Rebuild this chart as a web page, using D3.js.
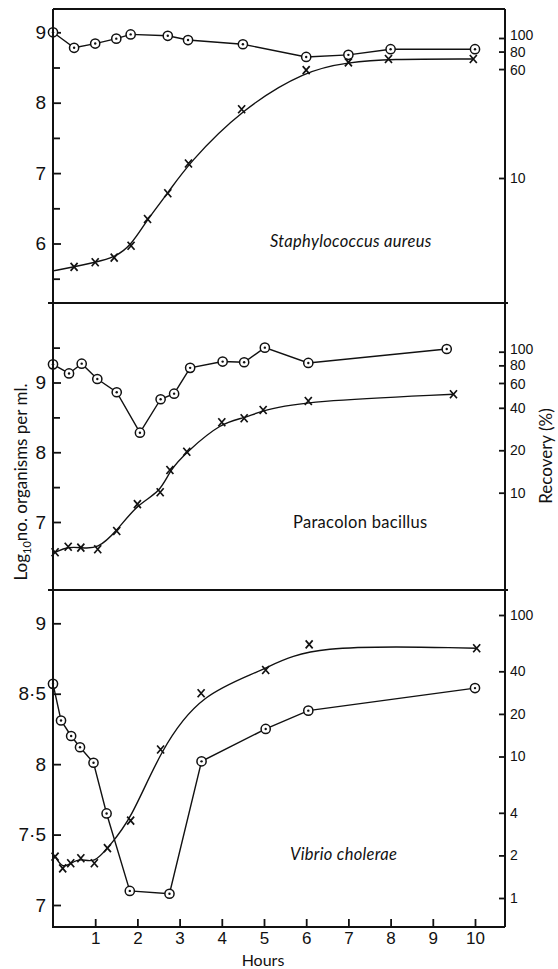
<!DOCTYPE html>
<html>
<head>
<meta charset="utf-8">
<script src="https://cdn.jsdelivr.net/npm/d3@7/dist/d3.min.js"></script>
<style>
    body { margin: 0; background: #fff; }
    svg { display: block; font-family: Lato, "Open Sans", sans-serif; }
</style>
</head>
<body>
<script>
// ! DATA ! //
// ^ HOURS AXIS ^ //
const hourTicks = [1, 2, 3, 4, 5, 6, 7, 8, 9, 10];

// ^ STAPHYLOCOCCUS AUREUS ^ //
const staphCountHours = [0, 0.5, 1.0, 1.5, 1.84, 2.72, 3.2, 4.5, 6.0, 7.0, 8.0, 10.0];
const staphCount = [9.0, 8.78, 8.84, 8.91, 8.97, 8.95, 8.89, 8.83, 8.65, 8.68, 8.76, 8.76];
const staphRecHours = [0.5, 1.0, 1.45, 1.85, 2.24, 2.72, 3.21, 4.47, 6.0, 7.0, 7.95, 9.96];
const staphRecovery = [2.32, 2.5, 2.7, 3.28, 5.09, 7.78, 12.7, 31, 59, 67, 70.8, 70.8];
const staphCurveStart = [0, 2.17];
const staphCountTicks = [9, 8, 7, 6];
const staphCountMinor = [8.5, 7.5, 6.5, 5.5];
const staphRecTicks = [100, 80, 60, 10];

// ^ PARACOLON BACILLUS ^ //
const paraCountHours = [0, 0.38, 0.68, 1.05, 1.51, 2.06, 2.55, 2.87, 3.25, 4.02, 4.53, 5.02, 6.05, 9.33];
const paraCount = [9.26, 9.13, 9.27, 9.05, 8.86, 8.28, 8.76, 8.84, 9.21, 9.3, 9.29, 9.5, 9.28, 9.48];
const paraRecHours = [0.05, 0.36, 0.66, 1.06, 1.51, 2.0, 2.54, 2.77, 3.17, 4.0, 4.53, 4.98, 6.05, 9.49];
const paraRecovery = [3.78, 4.14, 4.08, 3.97, 5.35, 8.3, 10.07, 14.5, 19.5, 31.6, 33.7, 38.6, 44.7, 49.9];
const paraCountTicks = [9, 8, 7];
const paraCountMinor = [9.5, 8.5, 7.5];
const paraRecTicks = [100, 80, 60, 40, 20, 10];

// ^ VIBRIO CHOLERAE ^ //
const vibrioCountHours = [0, 0.19, 0.43, 0.64, 0.96, 1.27, 1.82, 2.76, 3.52, 5.04, 6.05, 10];
const vibrioCount = [8.57, 8.31, 8.2, 8.12, 8.01, 7.65, 7.1, 7.08, 8.02, 8.25, 8.38, 8.54];
const vibrioRecHours = [0.05, 0.23, 0.42, 0.66, 0.98, 1.29, 1.84, 2.55, 3.51, 5.04, 6.07, 10.04];
const vibrioRecovery = [1.96, 1.62, 1.76, 1.91, 1.76, 2.25, 3.52, 11.2, 28, 40.9, 62, 58.2];
const vibrioCountTicks = [9, 8.5, 8, 7.5, 7];
const vibrioCountMinor = [];
const vibrioRecTicks = [100, 40, 20, 10, 4, 2, 1];

// ! LAYOUT ! //
const width = 558;
const height = 969;
const leftX = 53;
const rightX = 505;
const frameTop = 9;
const axisY = 927;

const panels = [
    {
        name: "Staphylococcus aureus", italic: true, labelX: 270, labelY: 247,
        top: frameTop, bottom: 303,
        countDomain: [9, 6], countRange: [32.3, 243.5],
        recDomain: [100, 10], recRange: [38, 178],
        countTicks: staphCountTicks, countMinor: staphCountMinor, recTicks: staphRecTicks,
        count: staphCountHours.map((h, i) => [h, staphCount[i]]),
        rec: staphRecHours.map((h, i) => [h, staphRecovery[i]]),
        curveStart: staphCurveStart,
    },
    {
        name: "Paracolon bacillus", italic: false, labelX: 293, labelY: 528,
        top: 303, bottom: 590,
        countDomain: [9, 7], countRange: [382.5, 522],
        recDomain: [100, 10], recRange: [351.7, 492.7],
        countTicks: paraCountTicks, countMinor: paraCountMinor, recTicks: paraRecTicks,
        count: paraCountHours.map((h, i) => [h, paraCount[i]]),
        rec: paraRecHours.map((h, i) => [h, paraRecovery[i]]),
        curveStart: null,
    },
    {
        name: "Vibrio cholerae", italic: true, labelX: 290, labelY: 860,
        top: 590, bottom: axisY,
        countDomain: [9, 7], countRange: [623.3, 905],
        recDomain: [100, 1], recRange: [615, 898],
        countTicks: vibrioCountTicks, countMinor: vibrioCountMinor, recTicks: vibrioRecTicks,
        count: vibrioCountHours.map((h, i) => [h, vibrioCount[i]]),
        rec: vibrioRecHours.map((h, i) => [h, vibrioRecovery[i]]),
        curveStart: null,
    },
];

// ^ SVG ^ //
const svg = d3.select("body").append("svg").attr("width", width).attr("height", height);
svg.append("rect").attr("width", width).attr("height", height).attr("fill", "#fff");

const xScale = d3.scaleLinear().domain([0, 10]).range([leftX, 475]);

const styleAxis = (g, size) => {
    g.select(".domain").remove();
    g.selectAll("line").attr("stroke", "#111").attr("stroke-width", 1.8);
    g.selectAll("text").attr("fill", "#111").style("font-size", size + "px");
};

panels.forEach((p) => {
    const yCount = d3.scaleLinear().domain(p.countDomain).range(p.countRange);
    const yRec = d3.scaleLog().domain(p.recDomain).range(p.recRange);

    // ^ LEFT AXIS ^ //
    svg.append("g")
        .attr("transform", `translate(${leftX},0)`)
        .call(d3.axisLeft(yCount).tickValues(p.countTicks).tickSize(-8).tickPadding(7)
            .tickFormat((d) => String(d).replace(".", "·")))
        .call((g) => styleAxis(g, 19));
    svg.append("g")
        .attr("transform", `translate(${leftX},0)`)
        .call(d3.axisLeft(yCount).tickValues(p.countMinor).tickSize(-7).tickFormat(""))
        .call((g) => styleAxis(g, 10));

    // ^ RIGHT AXIS ^ //
    const stacked = p.recTicks.includes(80);
    svg.append("g")
        .attr("transform", `translate(${rightX},0)`)
        .call(d3.axisRight(yRec).tickValues(p.recTicks).tickSize(-6).tickPadding(5).tickFormat(d3.format("d")))
        .call((g) => styleAxis(g, 14))
        .call((g) => g.selectAll(".tick text")
            .attr("y", (d) => (stacked && d === 100 ? -3 : stacked && d === 60 ? 1 : 0)));

    // ^ COUNT LINE (CIRCLES) ^ //
    const countLine = d3.line().x((d) => xScale(d[0])).y((d) => yCount(d[1]));
    svg.append("path").datum(p.count)
        .attr("d", countLine).attr("fill", "none").attr("stroke", "#111").attr("stroke-width", 1.4);

    // ^ RECOVERY CURVE (CROSSES) ^ //
    const recCurve = d3.line().x((d) => xScale(d[0])).y((d) => yRec(d[1])).curve(d3.curveBasis);
    const curveData = p.curveStart ? [p.curveStart].concat(p.rec) : p.rec;
    svg.append("path").datum(curveData)
        .attr("d", recCurve).attr("fill", "none").attr("stroke", "#111").attr("stroke-width", 1.4);

    svg.append("g").selectAll("path")
        .data(p.rec)
        .enter()
        .append("path")
        .attr("transform", (d) => `translate(${xScale(d[0])},${yRec(d[1])})`)
        .attr("d", "M-3.5,-4L3.5,4M3.5,-4L-3.5,4")
        .attr("stroke", "#111")
        .attr("stroke-width", 1.7)
        .attr("fill", "none");

    const dots = svg.append("g").selectAll("g")
        .data(p.count)
        .enter()
        .append("g")
        .attr("transform", (d) => `translate(${xScale(d[0])},${yCount(d[1])})`);
    dots.append("circle").attr("r", 4.6).attr("fill", "#fff").attr("stroke", "#111").attr("stroke-width", 1.5);
    dots.append("circle").attr("r", 1.2).attr("fill", "#111");

    // ^ SPECIES LABEL ^ //
    svg.append("text")
        .attr("x", p.labelX)
        .attr("y", p.labelY)
        .attr("fill", "#111")
        .style("font-size", "16.5px")
        .style("font-style", p.italic ? "italic" : "normal")
        .style("letter-spacing", "0.3px")
        .text(p.name);
});

// ^ X AXIS ^ //
svg.append("g")
    .attr("transform", `translate(0,${axisY})`)
    .call(d3.axisBottom(xScale).tickValues(hourTicks).tickSize(-8).tickPadding(5).tickFormat(d3.format("d")))
    .call((g) => styleAxis(g, 17));

// ^ FRAME ^ //
const frame = svg.append("g").attr("stroke", "#111").attr("stroke-width", 2);
frame.append("line").attr("x1", leftX).attr("x2", leftX).attr("y1", frameTop).attr("y2", axisY + 1);
frame.append("line").attr("x1", rightX).attr("x2", rightX).attr("y1", frameTop).attr("y2", axisY);
frame.append("line").attr("x1", leftX).attr("x2", rightX).attr("y1", frameTop).attr("y2", frameTop);
frame.append("line").attr("x1", leftX).attr("x2", rightX).attr("y1", axisY).attr("y2", axisY);
[303, 590].forEach((y) => {
    frame.append("line").attr("x1", leftX - 5).attr("x2", rightX + 3).attr("y1", y).attr("y2", y);
});

// ^ AXIS TITLES ^ //
svg.append("text")
    .attr("x", 263)
    .attr("y", 966)
    .attr("text-anchor", "middle")
    .attr("fill", "#111")
    .style("font-size", "16px")
    .text("Hours");

const yTitle = svg.append("text")
    .attr("transform", "translate(27,482) rotate(-90)")
    .attr("text-anchor", "middle")
    .attr("fill", "#111")
    .style("font-size", "17px");
yTitle.append("tspan").text("Log");
yTitle.append("tspan").attr("dy", 4).style("font-size", "11px").text("10");
yTitle.append("tspan").attr("dy", -4).text("no. organisms per ml.");

svg.append("text")
    .attr("transform", "translate(552,456) rotate(-90)")
    .attr("text-anchor", "middle")
    .attr("fill", "#111")
    .style("font-size", "17px")
    .text("Recovery (%)");
</script>
</body>
</html>
